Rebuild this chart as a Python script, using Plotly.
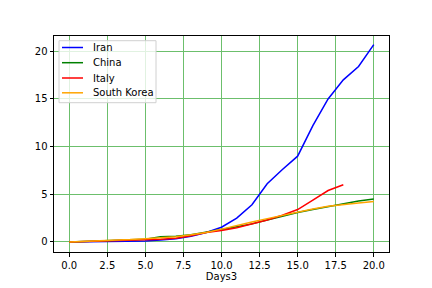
import plotly.graph_objects as go

days = list(range(21))
iran = [0, 0.02, 0.04, 0.06, 0.08, 0.1, 0.2, 0.35, 0.6, 1.0, 1.55, 2.5, 3.9, 6.1, 7.6, 9.0, 12.2, 15.0, 17.0, 18.4, 20.7]
china = [0, 0.05, 0.1, 0.15, 0.2, 0.3, 0.55, 0.6, 0.75, 1.0, 1.3, 1.6, 1.9, 2.3, 2.7, 3.1, 3.4, 3.7, 4.0, 4.3, 4.5]
italy_days = list(range(19))
italy = [0, 0.05, 0.1, 0.12, 0.15, 0.2, 0.3, 0.4, 0.65, 1.0, 1.2, 1.5, 1.9, 2.3, 2.8, 3.4, 4.4, 5.4, 6.0]
korea = [0, 0.05, 0.1, 0.2, 0.25, 0.35, 0.45, 0.55, 0.75, 1.0, 1.35, 1.75, 2.1, 2.45, 2.8, 3.15, 3.45, 3.75, 3.95, 4.1, 4.25]

names = ["Iran", "China", "Italy", "South Korea"]
colors = ["blue", "green", "red", "orange"]

fig = go.Figure()
fig.add_trace(go.Scatter(x=days, y=iran, mode="lines", name=names[0], line=dict(color=colors[0], width=1.5)))
fig.add_trace(go.Scatter(x=days, y=china, mode="lines", name=names[1], line=dict(color=colors[1], width=1.5)))
fig.add_trace(go.Scatter(x=italy_days, y=italy, mode="lines", name=names[2], line=dict(color=colors[2], width=1.5)))
fig.add_trace(go.Scatter(x=days, y=korea, mode="lines", name=names[3], line=dict(color=colors[3], width=1.5)))

axis_common = dict(
    showline=True, linecolor="black", linewidth=1, mirror=True,
    ticks="outside", ticklen=3.5, tickcolor="black",
    showgrid=True, gridcolor="#6cbf6c", gridwidth=1,
    zeroline=False, automargin=False,
    tickfont=dict(family="DejaVu Sans", size=10, color="black"),
)
fig.update_xaxes(range=[-1, 21], tickvals=[0, 2.5, 5, 7.5, 10, 12.5, 15, 17.5, 20],
                 tickformat=".1f",
                 title=dict(text="Days3", standoff=3, font=dict(family="DejaVu Sans", size=10, color="black")),
                 **axis_common)
fig.update_yaxes(range=[-1.05, 21.6], tickvals=[0, 5, 10, 15, 20], **axis_common)

# matplotlib-like compact legend box (paper coordinates of the plot area)
L, R, T, B = 54, 389, 36, 252
def px(x):
    return (x - L) / (R - L)
def py(y):
    return (B - y) / (B - T)

fig.add_shape(type="rect", xref="paper", yref="paper",
              x0=px(59), x1=px(156), y0=py(102.7), y1=py(40.7),
              fillcolor="rgba(255,255,255,0.8)", line=dict(color="#d0d0d0", width=1), layer="above")
rows = [47.5, 62.7, 78, 92.8]
for name, col, ry in zip(names, colors, rows):
    fig.add_shape(type="line", xref="paper", yref="paper",
                  x0=px(62), x1=px(83), y0=py(ry), y1=py(ry),
                  line=dict(color=col, width=1.5), layer="above")
    fig.add_annotation(xref="paper", yref="paper", x=px(91), y=py(ry), text=name,
                       showarrow=False, xanchor="left", yanchor="middle",
                       font=dict(family="DejaVu Sans", size=10, color="black"))

fig.update_layout(
    width=432, height=288,
    margin=dict(l=L, r=432 - R, t=T, b=288 - B),
    paper_bgcolor="white", plot_bgcolor="white",
    font=dict(family="DejaVu Sans", size=10, color="black"),
    showlegend=False,
)
fig.write_html("out.html", config={"displayModeBar": False},
               post_script="document.body.style.margin='0';document.body.style.padding='0';")
